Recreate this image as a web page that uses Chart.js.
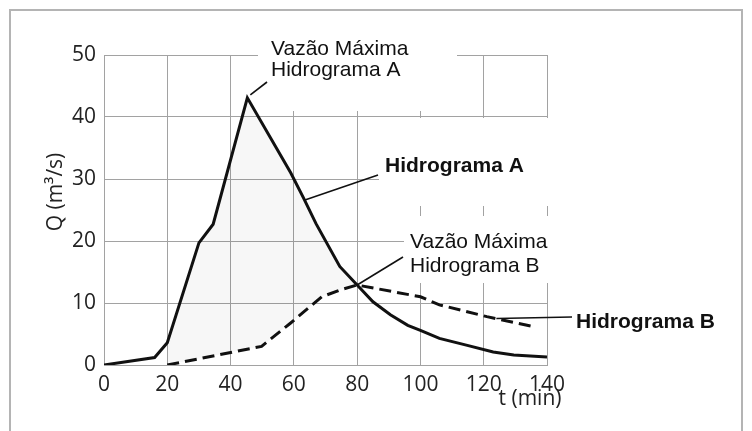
<!DOCTYPE html>
<html>
<head>
<meta charset="utf-8">
<script src="https://cdn.jsdelivr.net/npm/chart.js@4.4.1/dist/chart.umd.min.js"></script>
<style>
html, body { margin:0; padding:0; background:#fff; }
#wrap { position:relative; width:752px; height:431px; overflow:hidden; }
#frame { position:absolute; left:9px; top:9px; width:730px; height:480px; border:2px solid #b4b4b4; }
#c { position:absolute; left:0; top:0; }
</style>
</head>
<body>
<div id="wrap"><div id="frame"></div><canvas id="c" width="752" height="431"></canvas></div>
<script>
// Hidrograma A (solid) and B (dashed), t in min, Q in m3/s
var tA = [0, 16, 20, 30, 34.5, 45.3, 59, 63, 67, 74.5, 80, 85, 90.5, 96, 100, 106, 114.5, 123, 129.5, 140];
var qA = [0, 1.2, 3.6, 19.7, 22.7, 43.1, 31, 27, 22.8, 15.9, 12.9, 10.2, 8.1, 6.4, 5.6, 4.3, 3.2, 2.1, 1.6, 1.3];
var tB = [20, 38.8, 49.8, 58.8, 68.8, 74.6, 80, 100, 106, 121, 135.7];
var qB = [0, 1.9, 3.0, 6.7, 11.0, 12.1, 12.9, 11.0, 9.7, 7.8, 6.2];
var xTicks = [0, 20, 40, 60, 80, 100, 120, 140];
var yTicks = [0, 10, 20, 30, 40, 50];

var peakA = [45.3, 43.1];
var peakB = [80, 12.9];
var pointA = [63.5, 26.6];
var pointB = [124, 7.5];

function pts(t, q){
	var out = [];
	for (var i = 0; i < t.length; i++) out.push({ x: t[i], y: q[i] });
	return out;
}

var gridColor = '#a2a2a2',
	tickFont = { family: 'Open Sans', size: 21 },
	noteFont = '21px "Liberation Sans"',
	noteBold = 'bold 21px "Liberation Sans"';

// white patches where the printed grid is broken by the labels
var gridGaps = {
	id: 'gridGaps',
	beforeDatasetsDraw: function(chart){
		var ctx = chart.ctx;
		ctx.save();
		ctx.fillStyle = '#fff';
		ctx.fillRect(258, 30, 199, 81);
		ctx.fillRect(379, 118, 181, 88);
		ctx.fillRect(404, 216, 156, 67);
		ctx.restore();
	}
};

var notes = {
	id: 'notes',
	afterDatasetsDraw: function(chart){
		var ctx = chart.ctx,
			sx = chart.scales.x,
			sy = chart.scales.y;
		function px(p){ return [sx.getPixelForValue(p[0]), sy.getPixelForValue(p[1])]; }
		function line(a, x2, y2){
			ctx.beginPath();
			ctx.moveTo(a[0], a[1]);
			ctx.lineTo(x2, y2);
			ctx.stroke();
		}
		ctx.save();
		ctx.strokeStyle = '#111';
		ctx.lineWidth = 1.6;
		var a = px(peakA); line([a[0] + 3, a[1] - 3], 267, 82);
		line(px(pointA), 378, 175);
		line(px(peakB), 403, 257);
		line(px(pointB), 572, 317);

		ctx.fillStyle = '#111';
		ctx.textAlign = 'left';
		ctx.textBaseline = 'alphabetic';
		ctx.font = noteFont;
		ctx.fillText('Vazão Máxima', 271, 55);
		ctx.fillText('Hidrograma A', 271, 76);
		ctx.fillText('Vazão Máxima', 410, 248);
		ctx.fillText('Hidrograma B', 410, 272);
		ctx.font = noteBold;
		ctx.fillText('Hidrograma A', 385, 172);
		ctx.fillText('Hidrograma B', 576, 328);

		// axis titles
		ctx.fillStyle = '#222';
		ctx.font = '21px "Open Sans"';
		ctx.textAlign = 'center';
		ctx.textBaseline = 'middle';
		ctx.fillText('t (min)', 530, 399);
		ctx.translate(56, 192);
		ctx.rotate(-Math.PI / 2);
		ctx.fillText('Q (m³/s)', 0, 0);
		ctx.restore();
	}
};

new Chart(document.getElementById('c').getContext('2d'), {
	type: 'line',
	data: {
		datasets: [
			{
				label: 'Hidrograma A',
				data: pts(tA, qA),
				borderColor: '#111',
				borderWidth: 3,
				pointRadius: 0,
				tension: 0,
				fill: { target: '+1', above: 'rgba(0,0,0,0.03)', below: 'rgba(0,0,0,0)' }
			},
			{
				label: 'Hidrograma B',
				data: pts(tB, qB),
				borderColor: '#111',
				borderWidth: 3,
				borderDash: [12, 6],
				pointRadius: 0,
				tension: 0,
				fill: false
			}
		]
	},
	options: {
		responsive: false,
		animation: false,
		layout: { padding: { left: 0, top: 55, right: 205, bottom: 0 } },
		plugins: { legend: { display: false }, tooltip: { enabled: false } },
		scales: {
			x: {
				type: 'linear',
				min: 0,
				max: 140,
				afterBuildTicks: function(s){ s.ticks = xTicks.map(function(v){ return { value: v }; }); },
				afterFit: function(s){ s.height = 66; },
				grid: { color: gridColor, lineWidth: 1, drawTicks: false },
				border: { color: gridColor, width: 1 },
				ticks: { font: tickFont, color: '#222', padding: 7, maxRotation: 0 }
			},
			y: {
				min: 0,
				max: 50,
				afterBuildTicks: function(s){ s.ticks = yTicks.map(function(v){ return { value: v }; }); },
				afterFit: function(s){ s.width = 104; },
				grid: { color: gridColor, lineWidth: 1, drawTicks: false },
				border: { color: gridColor, width: 1 },
				ticks: { font: tickFont, color: '#222', padding: 8 }
			}
		}
	},
	plugins: [gridGaps, notes]
});
</script>
</body>
</html>
